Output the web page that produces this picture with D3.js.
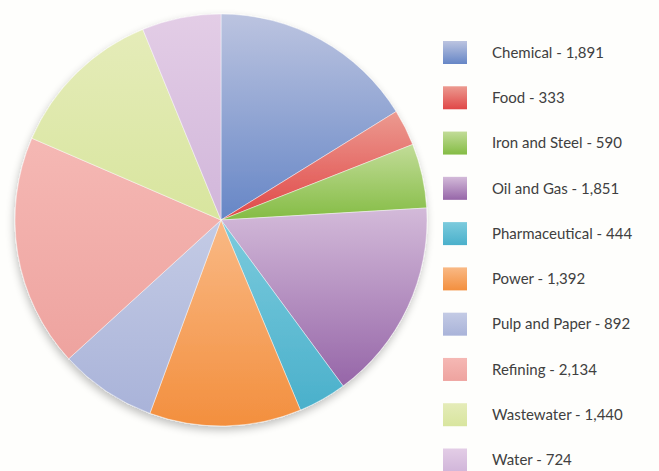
<!DOCTYPE html>
<html>
<head>
<meta charset="utf-8">
<script src="https://cdn.jsdelivr.net/npm/d3@7"></script>
<style>
  html, body { margin: 0; padding: 0; background: #fefefc; }
  svg { display: block; }
  .legend text { font-family: Lato, "Open Sans", sans-serif; font-size: 15px; fill: #404040; }
</style>
</head>
<body>
<svg id="chart" width="659" height="471"></svg>
<script>
// Facility counts by industry sector
const categories = ["Chemical", "Food", "Iron and Steel", "Oil and Gas", "Pharmaceutical",
                    "Power", "Pulp and Paper", "Refining", "Wastewater", "Water"];
const values = [1891, 333, 590, 1851, 444, 1392, 892, 2134, 1440, 724];

// Each slice fades from a lighter tint at its top to a deeper shade at its bottom
const lightColors = ["#bcc4e0", "#ec9a90", "#c2dc98", "#d3bad9", "#7ccbdd",
                     "#f9b985", "#c4cbe5", "#f5b8b4", "#e5ecb9", "#e3cde6"];
const darkColors  = ["#6686c6", "#e04747", "#84bc44", "#9666a8", "#4ab0cb",
                     "#f38f3e", "#a9b3d9", "#eea39f", "#d8e59e", "#d1b6da"];

const svg = d3.select("#chart");
const defs = svg.append("defs");

const cx = 221, cy = 220, radius = 206;

// Gradients, one per sector
categories.forEach((c, i) => {
  const g = defs.append("linearGradient")
    .attr("id", "grad" + i)
    .attr("x1", 0).attr("y1", 0).attr("x2", 0).attr("y2", 1);
  g.append("stop").attr("offset", "0%").attr("stop-color", lightColors[i]);
  g.append("stop").attr("offset", "100%").attr("stop-color", darkColors[i]);
});

// Soft shadow beneath the pie
const shadow = defs.append("filter").attr("id", "pieShadow")
  .attr("x", "-10%").attr("y", "-10%").attr("width", "120%").attr("height", "125%");
shadow.append("feGaussianBlur").attr("in", "SourceAlpha").attr("stdDeviation", 4).attr("result", "blur");
shadow.append("feOffset").attr("in", "blur").attr("dx", -1).attr("dy", 4).attr("result", "off");
shadow.append("feComponentTransfer").attr("in", "off").attr("result", "soft")
  .append("feFuncA").attr("type", "linear").attr("slope", 0.25);
const merge = shadow.append("feMerge");
merge.append("feMergeNode").attr("in", "soft");
merge.append("feMergeNode").attr("in", "SourceGraphic");

const pie = d3.pie().sort(null).value(d => d);
const arc = d3.arc().innerRadius(0).outerRadius(radius);

const pieG = svg.append("g")
  .attr("transform", `translate(${cx},${cy})`)
  .attr("filter", "url(#pieShadow)");

pieG.selectAll("path")
  .data(pie(values))
  .join("path")
  .attr("d", arc)
  .attr("fill", (d, i) => `url(#grad${i})`)
  .attr("stroke", "rgba(255,255,255,0.55)")
  .attr("stroke-width", 0.8);

// Legend
const fmt = d3.format(",");
const rowY = d3.scaleLinear().domain([0, categories.length - 1]).range([52.5, 460]);

const legend = svg.append("g").attr("class", "legend");
const rows = legend.selectAll("g")
  .data(categories)
  .join("g")
  .attr("transform", (d, i) => `translate(443,${rowY(i)})`);

rows.append("rect")
  .attr("x", 0).attr("y", -11.5)
  .attr("width", 24).attr("height", 23)
  .attr("fill", (d, i) => `url(#grad${i})`);

rows.append("text")
  .attr("x", 49)
  .attr("dy", "0.35em")
  .text((d, i) => `${d} - ${fmt(values[i])}`);
</script>
</body>
</html>
